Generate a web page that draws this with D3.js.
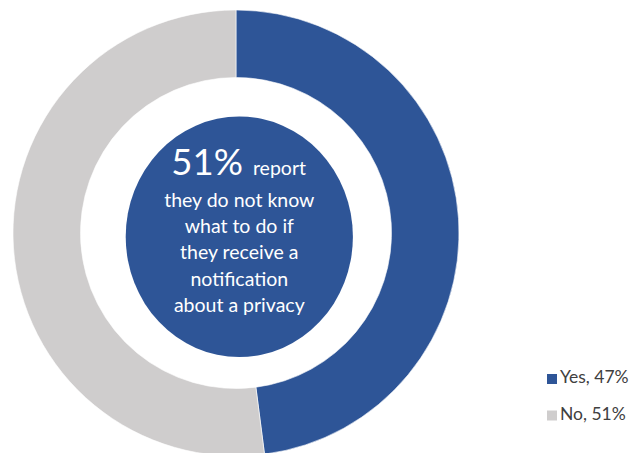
<!DOCTYPE html>
<html>
<head>
<meta charset="utf-8">
<script src="https://cdn.jsdelivr.net/npm/d3@7"></script>
<style>
  html, body { margin: 0; padding: 0; background: #fff; }
  svg { display: block; }
</style>
</head>
<body>
<svg id="chart" width="631" height="453"></svg>
<script>
// Survey answers shown in the ring
const categories = ["Yes", "No"];
const values = [47, 51];
const legendLabels = ["Yes, 47%", "No, 51%"];
const colors = ["#2E5597", "#CFCDCD"];

// Callout text in the middle
const headline = "51%";
const headlineTail = "report";
const calloutLines = ["they do not know", "what to do if", "they receive a", "notification", "about a privacy"];

const svg = d3.select("#chart");
const font = "Lato, 'Open Sans', sans-serif";

const cx = 236, cy = 233, outerR = 223, innerR = 155.5;

const pie = d3.pie().sort(null).value(d => d.value);
const arc = d3.arc().innerRadius(innerR).outerRadius(outerR);
const data = categories.map((c, i) => ({ name: c, value: values[i] }));
const color = d3.scaleOrdinal().domain(categories).range(colors);

const ring = svg.append("g").attr("transform", `translate(${cx},${cy})`);
ring.selectAll("path")
  .data(pie(data))
  .join("path")
  .attr("d", arc)
  .attr("fill", d => color(d.data.name))
  .attr("stroke", "#fff")
  .attr("stroke-width", 0.6);

// Central blue disc with the callout
const ccx = 239.3, ccy = 236.8;
svg.append("ellipse")
  .attr("cx", ccx).attr("cy", ccy)
  .attr("rx", 113.6).attr("ry", 120.3)
  .attr("fill", colors[0]);

const head = svg.append("text")
  .attr("x", ccx - 68).attr("y", 175)
  .attr("fill", "#fff")
  .attr("font-family", font);
head.append("tspan").attr("font-size", 36.5).text(headline);
head.append("tspan").attr("font-size", 19.5).attr("dx", 10).text(headlineTail);

const baseY = 207, lineH = 26.2;
svg.append("g").selectAll("text")
  .data(calloutLines)
  .join("text")
  .attr("x", ccx)
  .attr("y", (d, i) => baseY + i * lineH)
  .attr("text-anchor", "middle")
  .attr("fill", "#fff")
  .attr("font-family", font)
  .attr("font-size", 19.5)
  .text(d => d);

// Legend
const legend = svg.append("g").attr("transform", "translate(547,374)");
const item = legend.selectAll("g")
  .data(categories)
  .join("g")
  .attr("transform", (d, i) => `translate(0,${i * 36.5})`);
item.append("rect")
  .attr("width", 10).attr("height", 10)
  .attr("fill", d => color(d));
item.append("text")
  .attr("x", 13).attr("y", 9)
  .attr("fill", "#404040")
  .attr("font-family", font)
  .attr("font-size", 17.5)
  .text((d, i) => legendLabels[i]);
</script>
</body>
</html>
